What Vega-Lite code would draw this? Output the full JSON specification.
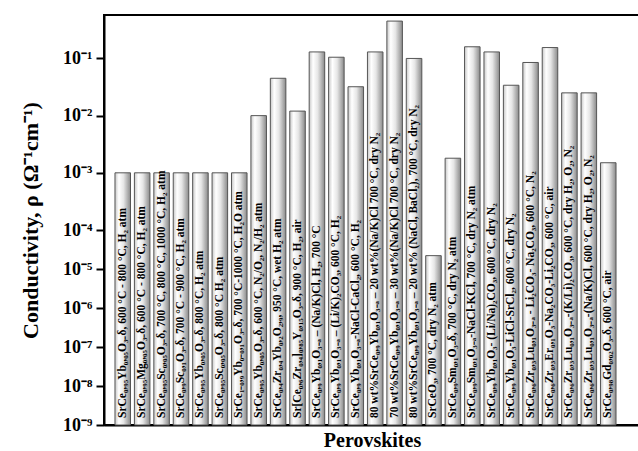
{
  "$schema": "https://vega.github.io/schema/vega-lite/v6.json",
  "width": 536,
  "height": 410,
  "autosize": "none",
  "padding": {"left": 104, "top": 15, "right": 0, "bottom": 26},
  "background": "white",
  "view": {"stroke": "black", "strokeWidth": 2},
  "config": {"font": "Liberation Serif"},
  "data": {"values": [
    {"id": 1, "label": "SrCe₀,₉₅Yb₀,₀₅O₃₋δ, 600 °C - 800 °C, H₂ atm", "value": 0.001},
    {"id": 2, "label": "SrCe₀,₉₅Mg₀,₀₅O₃₋δ, 600 °C - 800 °C, H₂ atm", "value": 0.001},
    {"id": 3, "label": "SrCe₀,₉₅Sc₀,₀₅O₃₋δ, 700 °C, 800 °C, 1000 °C, H₂ atm", "value": 0.001},
    {"id": 4, "label": "SrCe₀,₉Sc₀,₁O₃₋δ, 700 °C - 900 °C, H₂ atm", "value": 0.001},
    {"id": 5, "label": "SrCe₀,₉₅Yb₀,₀₅O₃₋δ, 800 °C, H₂ atm", "value": 0.001},
    {"id": 6, "label": "SrCe₀,₉₅Sc₀,₀₅O₃₋δ, 800 °C H₂ atm", "value": 0.001},
    {"id": 7, "label": "SrCe₁₋₀,₉Yb₀₋₀,₁O₃₋δ, 700 °C-1000 °C, H₂O atm", "value": 0.001},
    {"id": 8, "label": "SrCe₀,₉₅Yb₀,₀₅O₃₋δ, 600 °C, N₂/O₂, N₂/H₂ atm", "value": 0.01},
    {"id": 9, "label": "SrCe₀,₄Zr₀,₄Yb₀,₂O₂,₉, 950 °C, wet H₂ atm", "value": 0.045},
    {"id": 10, "label": "Sr[Ce₀,₆Zr₀,₄]₀,₈₅Y₀,₁₅O₃₋δ, 900 °C, H₂, air", "value": 0.012},
    {"id": 11, "label": "SrCe₀,₉Yb₀,₁O₃₋ₐ – (Na/K)Cl, H₂, 700 °C", "value": 0.13},
    {"id": 12, "label": "SrCe₀,₉Yb₀,₁O₃₋ₐ – (Li/K)₂CO₃, 600 °C, H₂", "value": 0.105},
    {"id": 13, "label": "SrCe₀,₉Yb₀,₁O₃₋ₐ-NaCl-CaCl₂, 600 °C, H₂", "value": 0.032},
    {"id": 14, "label": "80 wt%SrCe₀,₉Yb₀,₁O₃₋ₐ – 20 wt%(Na/K)Cl 700 °C, dry N₂", "value": 0.13},
    {"id": 15, "label": "70 wt%SrCe₀,₉Yb₀,₁O₃₋ₐ – 30 wt%(Na/K)Cl 700 °C, dry N₂", "value": 0.45},
    {"id": 16, "label": "80 wt%SrCe₀,₉Yb₀,₁O₃₋ₐ – 20 wt% (NaCl, BaCl₂), 700 °C, dry N₂", "value": 0.1},
    {"id": 17, "label": "SrCeO₃, 700 °C, dry N₂ atm", "value": 0.000022},
    {"id": 18, "label": "SrCe₀,₉Sm₀,₁O₃₋δ, 700 °C, dry N₂ atm", "value": 0.0018},
    {"id": 19, "label": "SrCe₀,₉Sm₀,₁O₃₋ₐ-NaCl-KCl, 700 °C, dry N₂ atm", "value": 0.16},
    {"id": 20, "label": "SrCe₀,₉Yb₀,₁O₃- (Li/Na)₂CO₃, 600 °C, dry N₂", "value": 0.13},
    {"id": 21, "label": "SrCe₀,₉Yb₀,₁O₃-LiCl-SrCl₂, 600 °C, dry N₂", "value": 0.034},
    {"id": 22, "label": "SrCe₀,₆Zr₀,₃Lu₀,₁O₃₋ₐ - Li₂CO₃- Na₂CO₃, 600 °C, N₂", "value": 0.085},
    {"id": 23, "label": "SrCe₀,₆Zr₀,₃Er₀,₁O₃-Na₂CO₃-Li₂CO₃, 600 °C, air", "value": 0.155},
    {"id": 24, "label": "SrCe₀,₆Zr₀,₃Lu₀,₁O₃₋ₐ-(K/Li)₂CO₃, 600 °C, dry H₂, O₂, N₂", "value": 0.025},
    {"id": 25, "label": "SrCe₀,₆Zr₀,₃Lu₀,₁O₃₋ₐ-(Na/K)Cl, 600 °C, dry H₂, O₂, N₂", "value": 0.025},
    {"id": 26, "label": "SrCe₀,₉₈Gd₀,₀₂O₃₋δ, 600 °C, air", "value": 0.0015}
  ]},
  "encoding": {
    "x": {
      "field": "id", "type": "ordinal", "sort": null,
      "scale": {"paddingInner": 0.2, "paddingOuter": 0.9, "align": 0.314},
      "axis": {
        "labels": false, "ticks": false, "title": "Perovskites",
        "domainColor": "black", "domainWidth": 2,
        "titleFont": "Liberation Serif", "titleFontSize": 20, "titleFontWeight": "bold",
        "titleColor": "black", "titlePadding": 5
      }
    }
  },
  "layer": [
    {
      "mark": {
        "type": "bar",
        "stroke": "#555555",
        "strokeWidth": 1,
        "fill": {
          "gradient": "linear", "x1": 0, "y1": 0, "x2": 1, "y2": 0,
          "stops": [
            {"offset": 0, "color": "#c8c8c8"},
            {"offset": 0.25, "color": "#ffffff"},
            {"offset": 0.55, "color": "#e6e6e6"},
            {"offset": 1, "color": "#8a8a8a"}
          ]
        }
      },
      "encoding": {
        "y": {
          "field": "value", "type": "quantitative",
          "scale": {"type": "log", "domain": [1e-9, 1e-4, 0.575], "range": [410, 215, 0], "nice": false, "zero": false, "clamp": true},
          "axis": {
            "values": [1e-9, 1e-8, 1e-7, 1e-6, 1e-5, 1e-4, 1e-3, 1e-2, 1e-1],
            "labelExpr": "'10' + ['⁻¹','⁻²','⁻³','⁻⁴','⁻⁵','⁻⁶','⁻⁷','⁻⁸','⁻⁹'][round(-log(datum.value)/LN10) - 1]",
            "grid": false,
            "domainColor": "black", "domainWidth": 2,
            "tickColor": "black", "tickWidth": 2, "tickSize": 8,
            "labelFont": "Liberation Serif", "labelFontSize": 18, "labelFontWeight": "bold",
            "labelColor": "black", "labelPadding": 4,
            "title": "Conductivity, ρ (Ω⁻¹cm⁻¹)",
            "titleFont": "Liberation Serif", "titleFontSize": 22, "titleFontWeight": "bold",
            "titleColor": "black", "titlePadding": 20
          }
        },
        "y2": {"datum": 1e-9}
      }
    },
    {
      "mark": {
        "type": "text", "angle": 270, "align": "left", "baseline": "middle",
        "dx": 7, "fontSize": 11.5, "fontWeight": "bold", "font": "Liberation Serif", "color": "black"
      },
      "encoding": {
        "y": {"datum": 1e-9, "type": "quantitative"},
        "text": {"field": "label"}
      }
    }
  ]
}
